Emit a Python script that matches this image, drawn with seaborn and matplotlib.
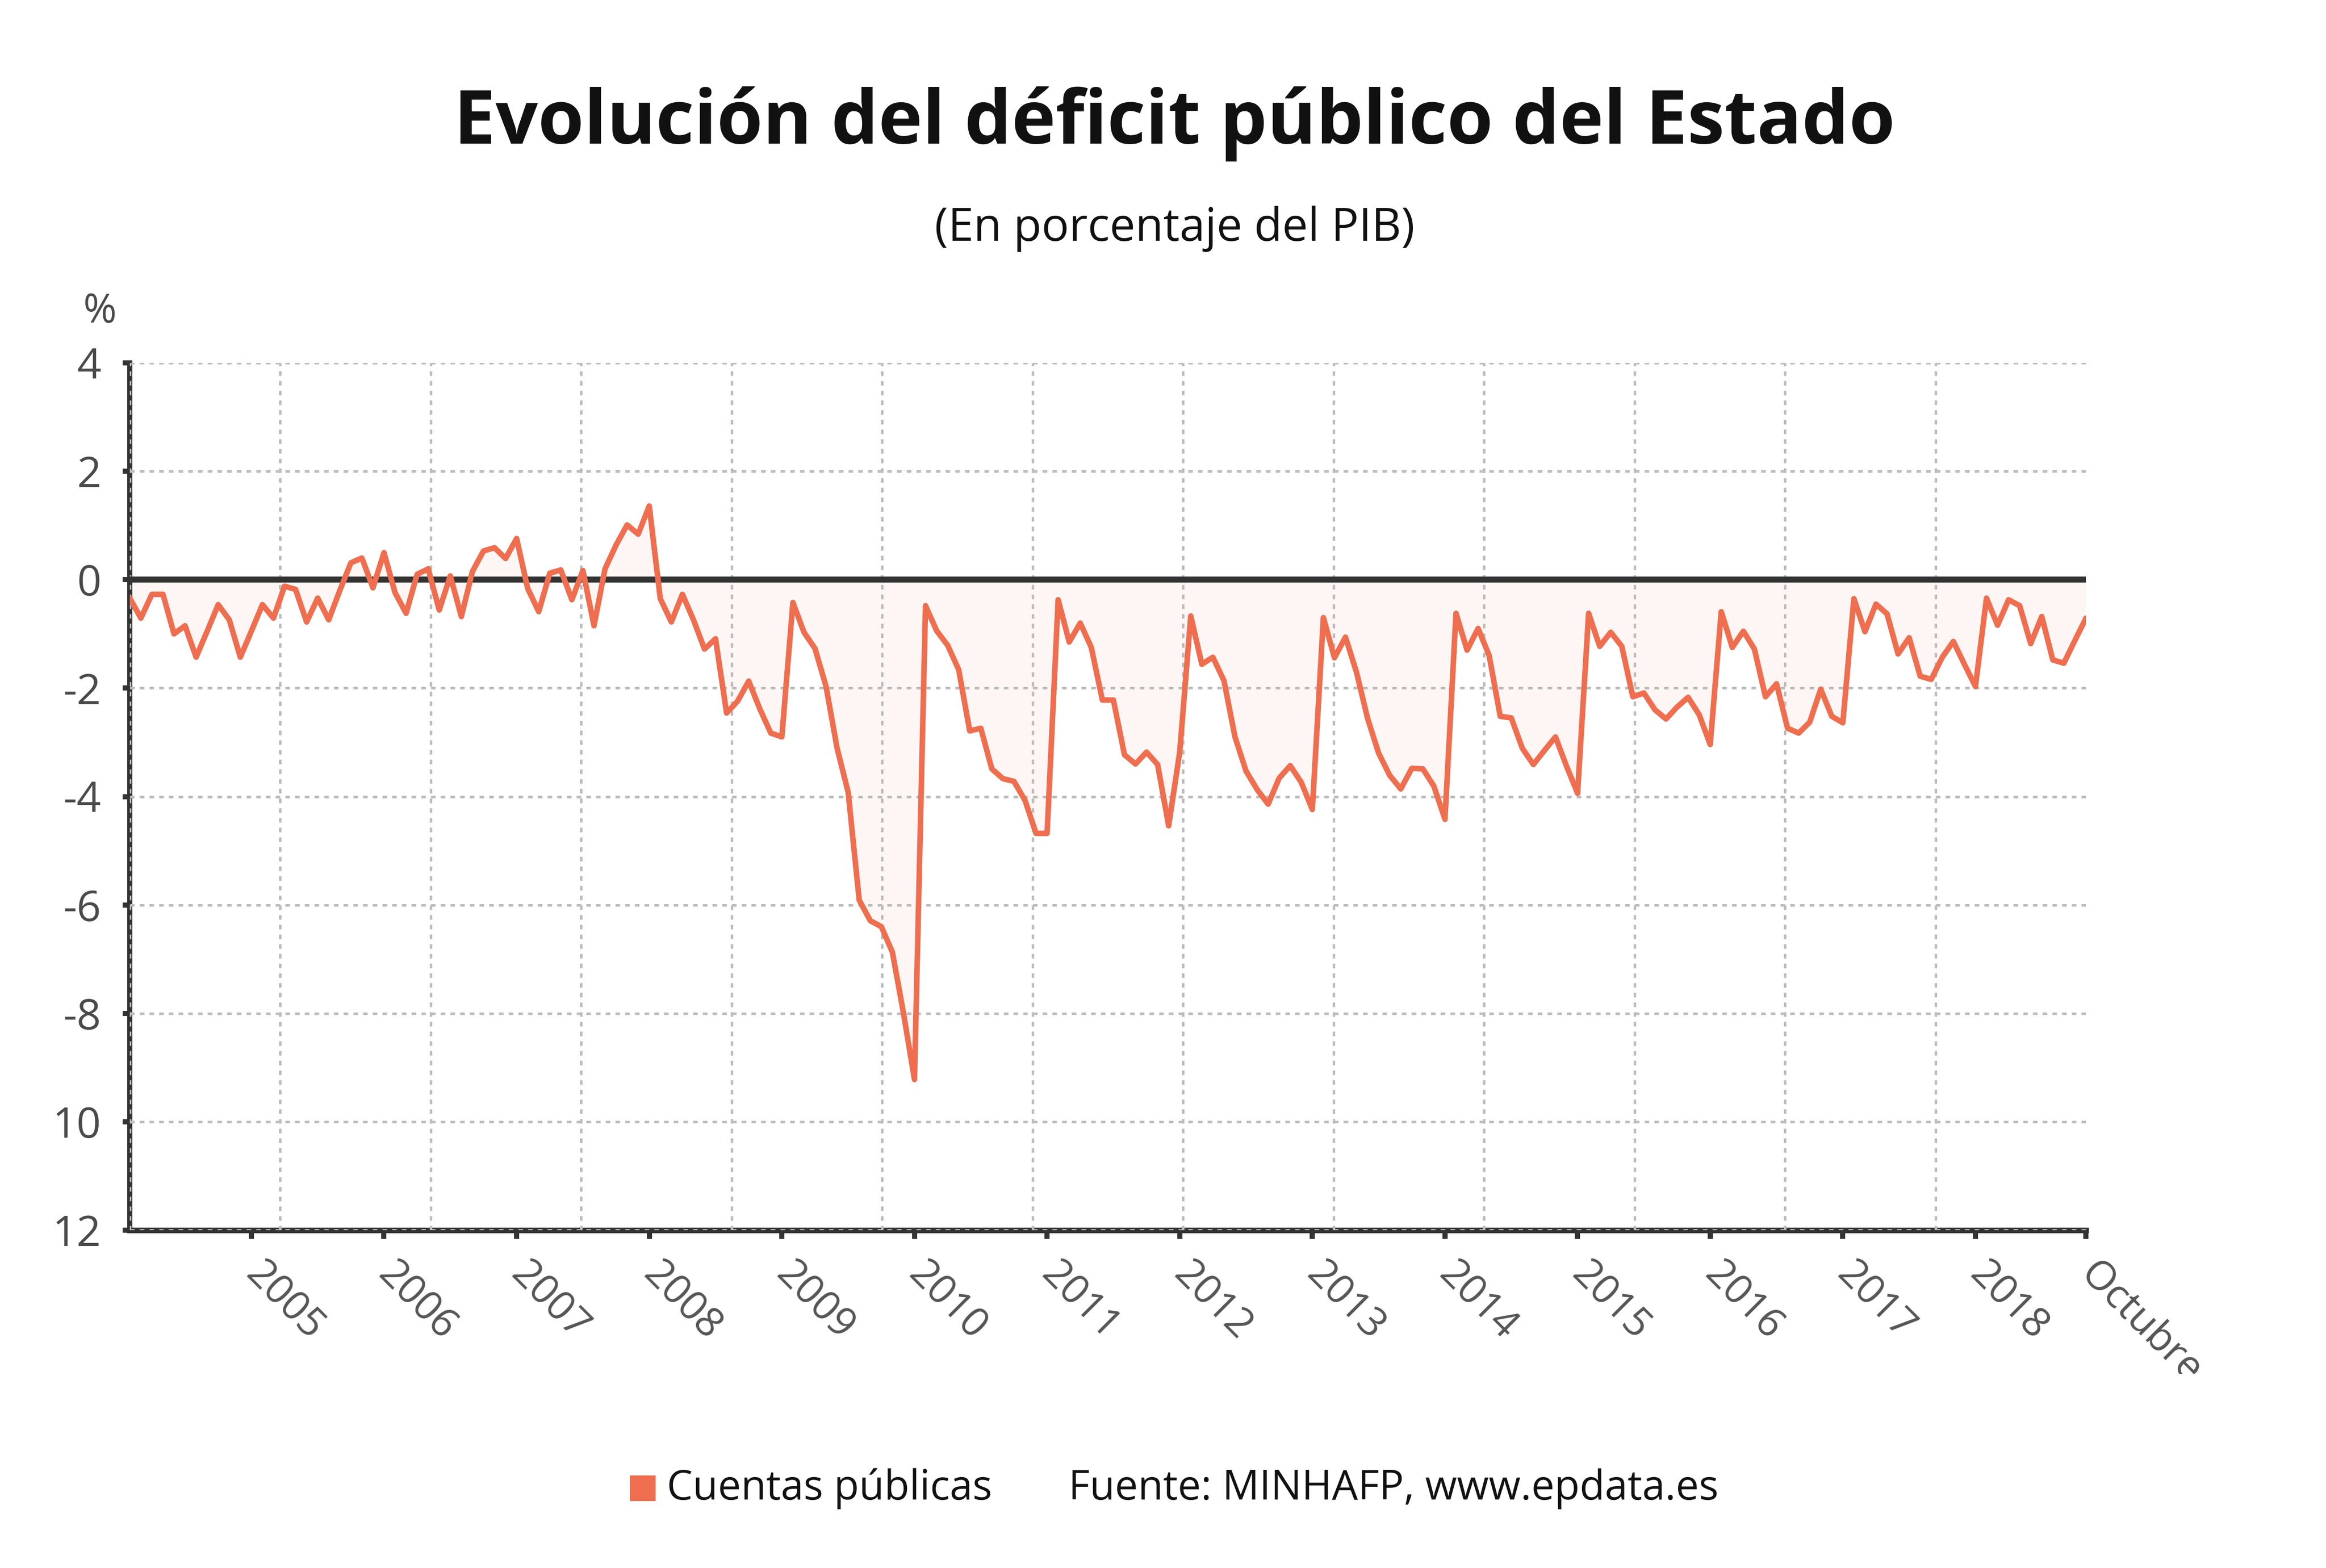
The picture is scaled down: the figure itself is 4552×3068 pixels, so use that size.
import numpy as np
import pandas as pd
import matplotlib
matplotlib.use('Agg')
import matplotlib.pyplot as plt
from matplotlib.transforms import Bbox, TransformedBbox
import seaborn as sns

# Deficit publico del Estado, % del PIB, mensual (enero 2004 - octubre 2018)
deficit_2004 = [-0.34, -0.71, -0.27, -0.27, -1.00, -0.85, -1.43, -0.95, -0.46, -0.74, -1.43, -0.95]
deficit_2005 = [-0.46, -0.71, -0.12, -0.18, -0.78, -0.34, -0.74, -0.20, 0.31, 0.40, -0.15, 0.50]
deficit_2006 = [-0.24, -0.62, 0.10, 0.20, -0.56, 0.07, -0.68, 0.15, 0.53, 0.59, 0.39, 0.76]
deficit_2007 = [-0.16, -0.59, 0.12, 0.18, -0.37, 0.17, -0.85, 0.20, 0.64, 1.01, 0.84, 1.36]
deficit_2008 = [-0.35, -0.78, -0.27, -0.74, -1.28, -1.09, -2.46, -2.24, -1.87, -2.38, -2.83, -2.90]
deficit_2009 = [-0.42, -0.97, -1.27, -1.97, -3.11, -3.92, -5.91, -6.29, -6.40, -6.87, -7.99, -9.22]
deficit_2010 = [-0.48, -0.94, -1.21, -1.66, -2.79, -2.74, -3.49, -3.67, -3.72, -4.07, -4.68, -4.68]
deficit_2011 = [-0.37, -1.15, -0.80, -1.25, -2.22, -2.22, -3.23, -3.40, -3.18, -3.41, -4.54, -3.18]
deficit_2012 = [-0.67, -1.56, -1.43, -1.86, -2.90, -3.53, -3.87, -4.14, -3.66, -3.43, -3.74, -4.24]
deficit_2013 = [-0.70, -1.44, -1.06, -1.71, -2.56, -3.20, -3.61, -3.86, -3.48, -3.49, -3.81, -4.42]
deficit_2014 = [-0.62, -1.30, -0.90, -1.40, -2.52, -2.55, -3.11, -3.41, -3.15, -2.90, -3.44, -3.94]
deficit_2015 = [-0.62, -1.23, -0.97, -1.23, -2.16, -2.09, -2.40, -2.57, -2.35, -2.17, -2.49, -3.04]
deficit_2016 = [-0.59, -1.25, -0.95, -1.28, -2.16, -1.92, -2.74, -2.83, -2.63, -2.02, -2.52, -2.64]
deficit_2017 = [-0.35, -0.96, -0.45, -0.63, -1.37, -1.07, -1.78, -1.84, -1.43, -1.14, -1.56, -1.97]
deficit_2018 = [-0.34, -0.84, -0.37, -0.48, -1.18, -0.68, -1.48, -1.54, -1.12, -0.71]

year_labels = ['2005', '2006', '2007', '2008', '2009', '2010', '2011',
               '2012', '2013', '2014', '2015', '2016', '2017', '2018']
last_label = 'Octubre'
y_ticks = [4, 2, 0, -2, -4, -6, -8, -10, -12]
y_tick_labels = ['4', '2', '0', '-2', '-4', '-6', '-8', '10', '12']

values = (deficit_2004 + deficit_2005 + deficit_2006 + deficit_2007 + deficit_2008 +
          deficit_2009 + deficit_2010 + deficit_2011 + deficit_2012 + deficit_2013 +
          deficit_2014 + deficit_2015 + deficit_2016 + deficit_2017 + deficit_2018)
df = pd.DataFrame({'mes': np.arange(len(values)), 'deficit': values})
n = len(values) - 1

sns.set_style('white')
plt.rcParams['font.family'] = ['Open Sans', 'DejaVu Sans']

line_color = '#ef6e4f'
grid_color = '#bdbdbd'
dark = '#333333'
dash = (0, (1.8, 2.0))

fig = plt.figure(figsize=(4552 / 300, 3068 / 300), dpi=300)
ax = fig.add_axes([0.0558, 0.2154, 0.841, 0.5532])

ax.fill_between(df['mes'], df['deficit'], 0, color=line_color, alpha=0.06, lw=0, zorder=1)
sns.lineplot(data=df, x='mes', y='deficit', color=line_color, lw=2.6, ax=ax, zorder=4)
ax.axhline(0, color=dark, lw=2.8, zorder=3)

ax.set_xlim(0, n)
ax.set_ylim(-12, 4)

# year ticks (december positions) + last month
year_pos = [11 + 12 * k for k in range(len(year_labels))]
ax.set_xticks(year_pos + [n])
ax.set_xticklabels(year_labels + [last_label])
ax.set_xticks(np.linspace(0, n, 14), minor=True)
ax.set_yticks(y_ticks)
ax.set_yticklabels(y_tick_labels)

ax.grid(False)
ax.grid(which='minor', axis='x', color=grid_color, lw=1.2, ls=dash, zorder=2)
ax.grid(which='major', axis='y', color=grid_color, lw=1.2, ls=dash, zorder=2)
ax.set_axisbelow(False)

for side in ['top', 'right']:
    ax.spines[side].set_visible(False)
ax.spines['left'].set_color(dark)
ax.spines['left'].set_linewidth(2.4)
ax.spines['bottom'].set_color(dark)
ax.spines['bottom'].set_linewidth(2.6)
ax.spines['left'].set_zorder(1.5)
ax.spines['bottom'].set_zorder(1.5)

ax.tick_params(axis='x', which='major', direction='out', length=4, width=2.4,
               color=dark, labelsize=19, labelcolor='#555555', pad=14, bottom=True)
ax.tick_params(axis='x', which='minor', length=0)
ax.tick_params(axis='y', which='major', direction='out', length=3.4, width=2.4,
               color=dark, labelsize=20, labelcolor='#4a4a4a', pad=10, left=True)
for lab in ax.get_xticklabels():
    lab.set_rotation(-45)
    lab.set_rotation_mode('anchor')
    lab.set_ha('left')
    lab.set_va('center')

clip = TransformedBbox(Bbox([[0, 0.124], [1, 1]]), fig.transFigure)
for tick in ax.xaxis.get_major_ticks():
    tick.label1.set_clip_box(clip)
    tick.label1.set_clip_on(True)

ax.set_xlabel('')
ax.set_ylabel('')

fig.text(0.505, 0.921, 'Evolución del déficit público del Estado', ha='center', va='center',
         fontsize=35, fontweight='bold', color='#111111')
fig.text(0.505, 0.854, '(En porcentaje del PIB)', ha='center', va='center',
         fontsize=21.5, color='#111111')
fig.text(0.043, 0.801, '%', ha='center', va='center', fontsize=19, color='#4a4a4a')

# legend and source
fig.patches.append(plt.Rectangle((0.2712, 0.0432), 0.0103, 0.0153, transform=fig.transFigure,
                                 color=line_color, figure=fig))
fig.text(0.2867, 0.0507, 'Cuentas públicas', ha='left', va='center', fontsize=19.3, color='#111111')
fig.text(0.4594, 0.0507, 'Fuente: MINHAFP, www.epdata.es', ha='left', va='center',
         fontsize=19.3, color='#111111')

fig.savefig('out.png', dpi=300, facecolor='white')
